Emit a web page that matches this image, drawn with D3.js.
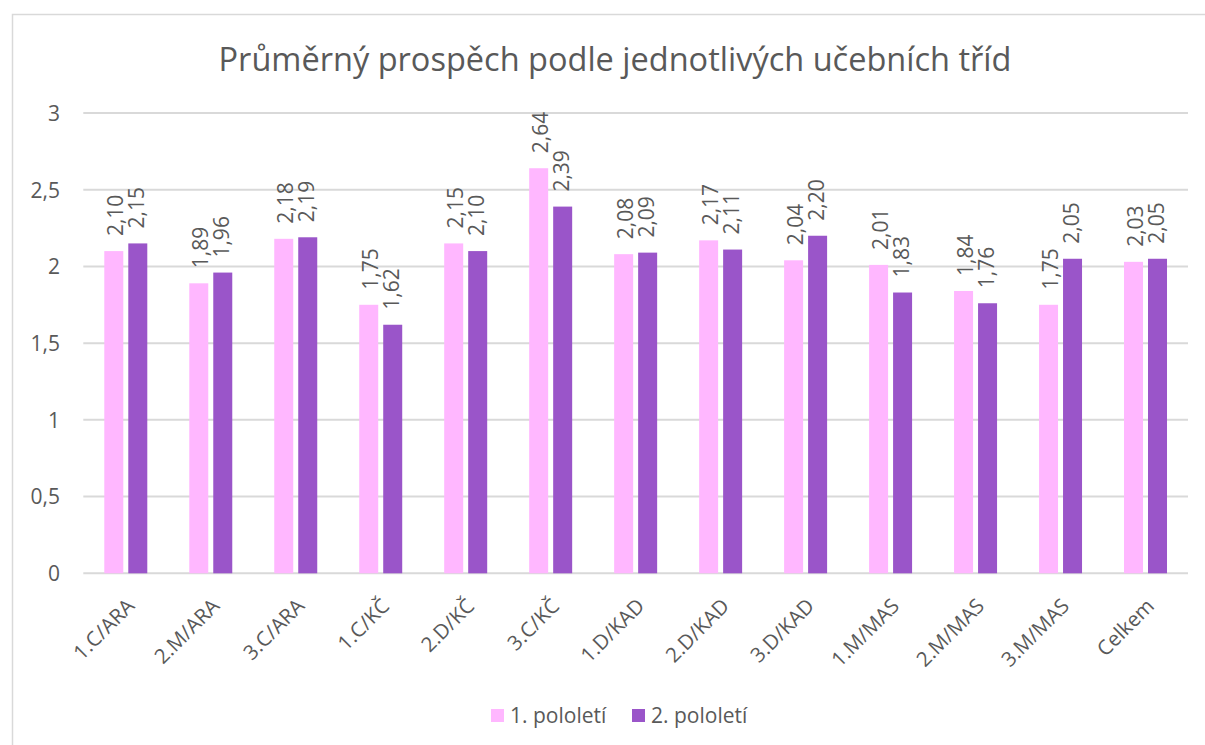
<!DOCTYPE html>
<html><head><meta charset="utf-8">
<script src="https://cdn.jsdelivr.net/npm/d3@7"></script>
<style>html,body{margin:0;padding:0;background:#fff;}svg{display:block;}</style>
</head><body>
<svg id="c" width="1205" height="745"></svg>
<script>
const title = "Průměrný prospěch podle jednotlivých učebních tříd";
const categories = ["1.C/ARA","2.M/ARA","3.C/ARA","1.C/KČ","2.D/KČ","3.C/KČ","1.D/KAD","2.D/KAD","3.D/KAD","1.M/MAS","2.M/MAS","3.M/MAS","Celkem"];
const series1 = [2.10,1.89,2.18,1.75,2.15,2.64,2.08,2.17,2.04,2.01,1.84,1.75,2.03];
const series2 = [2.15,1.96,2.19,1.62,2.10,2.39,2.09,2.11,2.20,1.83,1.76,2.05,2.05];
const seriesNames = ["1. pololetí","2. pololetí"];
const yTicks = [0,0.5,1,1.5,2,2.5,3];

const colors = ["#ffb7ff","#9a55c9"];
const textColor = "#595959";
const gridColor = "#d9d9d9";
const font = "'Open Sans', sans-serif";
const fs = 21;

const svg = d3.select("#c");
svg.append("rect").attr("x",12.5).attr("y",14.5).attr("width",1400).attr("height",1000)
  .attr("fill","#fff").attr("stroke",gridColor).attr("stroke-width",1.5);

const y = d3.scaleLinear().domain([0,3]).range([573.3,113]);
const x = d3.scaleBand().domain(categories).range([83.3,1188]);
const x1 = d3.scaleBand().domain([0,1]).range([-21.5,21.5]).paddingInner(5/24);
const comma = s => s.replace(".", ",");

// gridlines
svg.append("g").selectAll("line").data(yTicks).join("line")
  .attr("x1",x.range()[0]).attr("x2",x.range()[1])
  .attr("y1",d=>y(d)).attr("y2",d=>y(d))
  .attr("stroke",gridColor).attr("stroke-width",2);

// y axis via d3 axis
const yAxis = d3.axisLeft(y).tickValues(yTicks).tickSize(0).tickPadding(0)
  .tickFormat(d => comma(String(d)));
const gy = svg.append("g").attr("transform","translate(60,0)").call(yAxis);
gy.select(".domain").remove();
gy.selectAll("text").attr("fill",textColor).attr("font-family",font).attr("font-size",fs)
  .attr("text-anchor","end").attr("dy","0.35em").attr("x",0);

// x axis labels
const xAxis = d3.axisBottom(x).tickSize(0).tickPadding(0);
const gx = svg.append("g").attr("transform","translate(0,573.3)").call(xAxis);
gx.select(".domain").remove();
gx.selectAll(".tick text").attr("fill",textColor).attr("font-family",font).attr("font-size",fs - 0.5)
  .attr("text-anchor","end").attr("dy",0).attr("y",0)
  .attr("transform","translate(10,34) rotate(-45)");

const data = categories.map((c,i)=>({c, v:[series1[i],series2[i]]}));
const fmt = d3.format(".2f");

const groups = svg.append("g").selectAll("g").data(data).join("g")
  .attr("transform", d=>`translate(${x(d.c)+x.bandwidth()/2},0)`);

groups.selectAll("rect").data(d=>d.v.map((v,k)=>({v,k}))).join("rect")
  .attr("x",d=>x1(d.k)).attr("width",x1.bandwidth())
  .attr("y",d=>y(d.v)).attr("height",d=>y(0)-y(d.v))
  .attr("fill",d=>colors[d.k]);

const labOff = [-10.5, 10.5];
groups.selectAll("text.val").data(d=>d.v.map((v,k)=>({v,k}))).join("text")
  .attr("class","val")
  .attr("transform",d=>`translate(${labOff[d.k]+8},${y(d.v)-15}) rotate(-90)`)
  .attr("font-family",font).attr("font-size",fs).attr("fill",textColor)
  .text(d=>comma(fmt(d.v)));

// title
const t = svg.append("text").attr("x",615).attr("y",71).attr("text-anchor","middle")
  .attr("font-family",font).attr("font-size",30).attr("fill",textColor).text(title);
const tw = t.node().getComputedTextLength();
t.attr("font-size", 30*793/tw);

// legend
const leg = svg.append("g");
const legX = [491, 632];
seriesNames.forEach((n,k)=>{
  leg.append("rect").attr("x",legX[k]).attr("y",709).attr("width",13).attr("height",13).attr("fill",colors[k]);
  leg.append("text").attr("x",legX[k]+19).attr("y",723).attr("font-family",font).attr("font-size",fs)
    .attr("fill",textColor).text(n);
});
</script>
</body></html>
